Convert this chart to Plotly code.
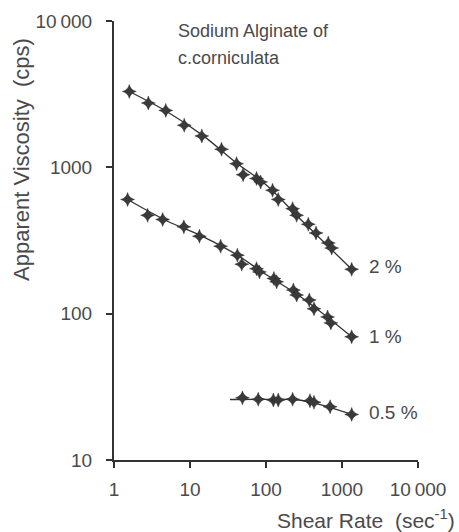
import math
import plotly.graph_objects as go

# 2 % solution: measured points
x2 = [1.59, 2.83, 4.8, 8.4, 14.3, 26, 41, 50, 75, 85, 122, 145, 224, 253, 360, 455, 660, 731, 1340]
y2 = [3300, 2750, 2450, 1940, 1640, 1330, 1060, 890, 840, 795, 697, 603, 522, 470, 408, 356, 304, 281, 201]
# 2 % fitted curve
cx2 = [1.59, 5, 15, 40, 100, 300, 1340]
cy2 = [3300, 2400, 1640, 1080, 760, 430, 201]

# 1 % solution
x1 = [1.51, 2.77, 4.37, 8.3, 13.3, 25.3, 42, 48, 75, 82, 127, 138, 229, 253, 371, 428, 646, 713, 1340]
y1 = [603, 470, 440, 392, 338, 289, 251, 218, 203, 193, 174, 165, 145, 134, 124, 108, 95, 86.5, 69.5]
cx1 = [1.51, 5, 15, 40, 100, 300, 1340]
cy1 = [603, 430, 335, 255, 185, 128, 69.5]

# 0.5 % solution
x05 = [49, 79, 125, 145, 224, 379, 428, 697, 1340]
y05 = [26.6, 26, 25.7, 25.7, 26, 25.4, 24.8, 23.1, 20.5]
cx05 = [33.6, 100, 250, 500, 1340]
cy05 = [25.9, 26, 25.8, 24, 20.5]

series_labels = ["2 %", "1 %", "0.5 %"]
label_y = [210, 70, 21]

x_tickvals = [1, 10, 100, 1000, 10000]
x_ticktext = ["1", "10", "100", "1000", "10\u2009000"]
y_tickvals = [10, 100, 1000, 10000]
y_ticktext = ["10", "100", "1000", "10\u2009000"]

ink = "#333333"
txt = "#4a4a4a"
regular = "Liberation Sans, Arial, sans-serif"

L, R, T, B = 114, 41, 21, 72
W, H = 459, 532
pw, ph = W - L - R, H - T - B


def px(xp):
    return (xp - L) / pw


def py(yp):
    return (H - B - yp) / ph


fig = go.Figure()
for cx, cy in [(cx2, cy2), (cx1, cy1), (cx05, cy05)]:
    fig.add_trace(go.Scatter(x=cx, y=cy, mode="lines",
                             line=dict(color=ink, width=1.3, shape="spline", smoothing=1.0),
                             hoverinfo="skip"))
for xs, ys in [(x2, y2), (x1, y1), (x05, y05)]:
    fig.add_trace(go.Scatter(x=xs, y=ys, mode="markers",
                             marker=dict(symbol="star-diamond", size=10, color="#3a3a3a",
                                         line=dict(color="#222222", width=0.4))))

for lab, ly in zip(series_labels, label_y):
    fig.add_annotation(x=math.log10(1340) + 0.2, y=math.log10(ly), xref="x", yref="y",
                       text=lab, showarrow=False, xanchor="left", yanchor="middle",
                       font=dict(family=regular, size=19, color=txt))

fig.add_annotation(xref="paper", yref="paper", x=px(176), y=py(31),
                   text="Sodium Alginate of", showarrow=False, xanchor="left", yanchor="middle",
                   font=dict(family=regular, size=18, color=txt))
fig.add_annotation(xref="paper", yref="paper", x=px(176), y=py(58),
                   text="c.corniculata", showarrow=False, xanchor="left", yanchor="middle",
                   font=dict(family=regular, size=18, color=txt))
fig.add_annotation(xref="paper", yref="paper", x=px(457), y=py(519),
                   text="Shear Rate  (sec<sup>-1</sup>)", showarrow=False, xanchor="right",
                   yanchor="middle", font=dict(family=regular, size=21, color=txt))
fig.add_annotation(xref="paper", yref="paper", x=px(21), y=py(160),
                   text="Apparent Viscosity  (cps)", showarrow=False, textangle=-90,
                   xanchor="center", yanchor="middle",
                   font=dict(family=regular, size=22, color=txt))

fig.update_layout(
    width=W, height=H,
    margin=dict(l=L, r=R, t=T, b=B, autoexpand=False),
    paper_bgcolor="white", plot_bgcolor="white",
    showlegend=False,
    xaxis=dict(type="log", range=[0, 4], tickvals=x_tickvals, ticktext=x_ticktext,
               automargin=False, ticklabelstandoff=5,
               showgrid=False, zeroline=False, showline=True, linecolor=ink, linewidth=2,
               ticks="outside", ticklen=6, tickwidth=1.5, tickcolor=ink,
               tickfont=dict(family=regular, size=19, color=txt)),
    yaxis=dict(type="log", range=[1, 4], tickvals=y_tickvals, ticktext=y_ticktext,
               automargin=False, ticklabelstandoff=10,
               showgrid=False, zeroline=False, showline=True, linecolor=ink, linewidth=2,
               ticks="outside", ticklen=6, tickwidth=1.5, tickcolor=ink,
               tickfont=dict(family=regular, size=19, color=txt)),
)

fig.write_html("out.html", config={"displayModeBar": False},
               post_script="document.body.style.margin='0';document.body.style.padding='0';")
